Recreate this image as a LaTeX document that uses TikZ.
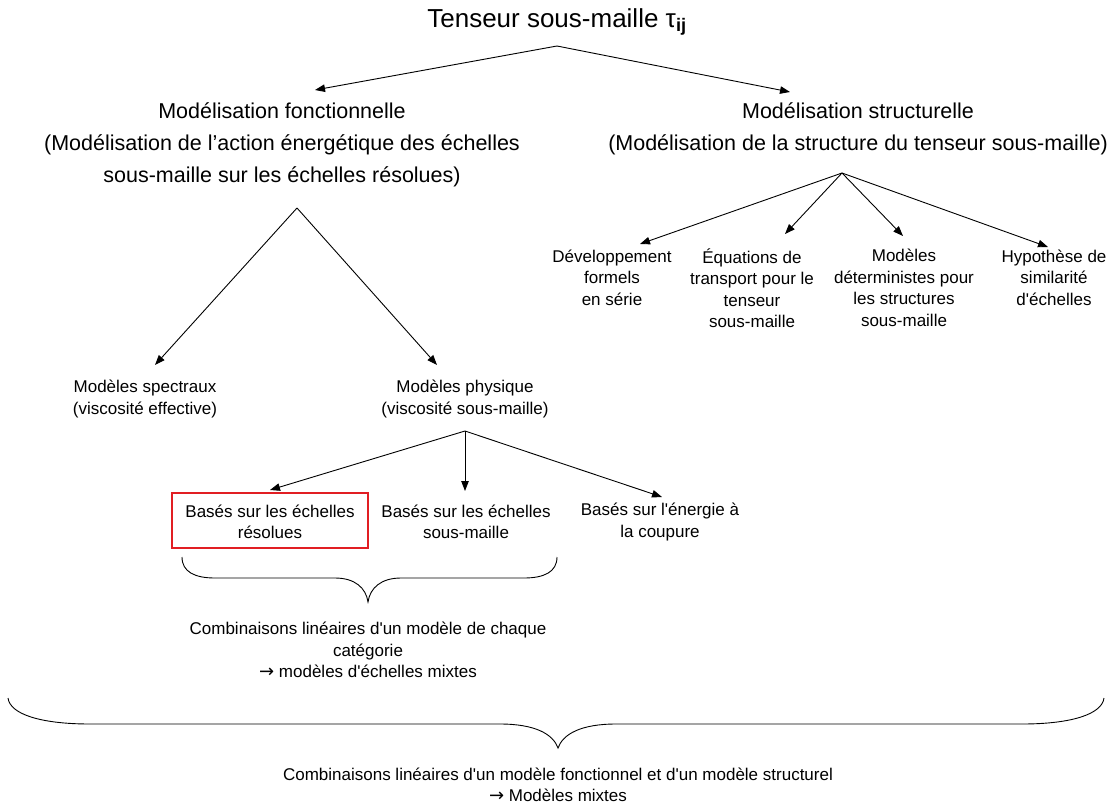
\documentclass[tikz,border=0pt]{standalone}
\usepackage{fontspec}
\setmainfont{Liberation Sans}
\newfontfamily\arrowfont{DejaVu Sans}
\usetikzlibrary{arrows.meta}
\definecolor{boxred}{RGB}{225,30,35}
\newcommand{\rarr}{{\arrowfont\fontsize{18}{21}\selectfont →}}
\newcommand{\q}{\textquotesingle}
\begin{document}
\begin{tikzpicture}[x=1pt,y=-1pt,
  big/.style={font=\fontsize{26}{30}\selectfont, inner sep=0pt},
  head/.style={font=\fontsize{21.5}{32}\selectfont, align=center, inner sep=0pt},
  small/.style={font=\fontsize{17}{21.5}\selectfont, align=center, inner sep=0pt},
  arr/.style={-{Triangle[length=10pt,width=7.5pt]}, line width=0.9pt},
  bracestyle/.style={line width=0.9pt}]
\useasboundingbox (0,0) rectangle (1110,808);

% title
\node[big] (title) at (557,22) {Tenseur sous-maille τ\textsubscript{\textbf{ij}}};
\coordinate (topapex) at (557,46);
\coordinate (tipF) at (315,90);
\coordinate (tipS) at (790,92);

% headers
\node[head] (fonc) at (282,145) {Modélisation fonctionnelle\\(Modélisation de l’action énergétique des échelles\\sous-maille sur les échelles résolues)};
\node[head] (struc) at (858,129) {Modélisation structurelle\\(Modélisation de la structure du tenseur sous-maille)};

\draw[arr] (topapex) -- (tipF);
\draw[arr] (topapex) -- (tipS);

% functional branch
\coordinate (fapex) at (297,208);
\coordinate (tipSp) at (155,365);
\coordinate (tipPh) at (437,365);
\node[small] (spec) at (145,399) {Modèles spectraux\\(viscosité effective)};
\node[small] (phys) at (465,399) {Modèles physique\\(viscosité sous-maille)};
\draw[arr] (fapex) -- (tipSp);
\draw[arr] (fapex) -- (tipPh);

\coordinate (papex) at (465,431);
\coordinate (tipR) at (270,490);
\coordinate (tipM) at (465,491);
\coordinate (tipE) at (662,497);
\draw[arr] (papex) -- (tipR);
\draw[arr] (papex) -- (tipM);
\draw[arr] (papex) -- (tipE);

\node[small] (res) at (270,522) {Basés sur les échelles\\résolues};
\node[small] (ssm) at (466,522) {Basés sur les échelles\\sous-maille};
\node[small] (ener) at (660,522) {Basés sur l\q énergie à\\la coupure};
\draw[boxred, line width=1.6pt] (172,493) rectangle (368,548);

% brace 1
\coordinate (b1l) at (182,557);
\coordinate (b1r) at (557,557);
\coordinate (b1t) at (368,602);
\draw[bracestyle] (b1l) .. controls (182,572) and (195,578) .. (215,578)
  -- (335,578) .. controls (355,578) and (366,588) .. (b1t)
  .. controls (370,588) and (381,578) .. (401,578)
  -- (524,578) .. controls (544,578) and (557,572) .. (b1r);
\node[small] (comb1) at (368,650) {Combinaisons linéaires d\q un modèle de chaque\\catégorie\\\rarr\ modèles d\q échelles mixtes};

% structural branch
\coordinate (sapex) at (842,173);
\coordinate (t1) at (640,244);
\coordinate (t2) at (785,234);
\coordinate (t3) at (903,236);
\coordinate (t4) at (1048,247);
\draw[arr] (sapex) -- (t1);
\draw[arr] (sapex) -- (t2);
\draw[arr] (sapex) -- (t3);
\draw[arr] (sapex) -- (t4);
\node[small] (dev) at (612,277.5) {Développement\\formels\\en série};
\node[small] (eq) at (752,288) {Équations de\\transport pour le\\tenseur\\sous-maille};
\node[small] (det) at (904,288) {Modèles\\déterministes pour\\les structures\\sous-maille};
\node[small] (hyp) at (1054,277.5) {Hypothèse de\\similarité\\d\q échelles};

% brace 2
\coordinate (b2l) at (8,698);
\coordinate (b2r) at (1104,698);
\coordinate (b2t) at (558,748);
\draw[bracestyle] (b2l) .. controls (10,714) and (40,724) .. (90,724)
  -- (500,724) .. controls (535,724) and (553,734) .. (b2t)
  .. controls (563,734) and (581,724) .. (616,724)
  -- (1022,724) .. controls (1072,724) and (1102,714) .. (b2r);
\node[small] (comb2) at (558,785) {Combinaisons linéaires d\q un modèle fonctionnel et d\q un modèle structurel\\\rarr\ Modèles mixtes};
\end{tikzpicture}
\end{document}
